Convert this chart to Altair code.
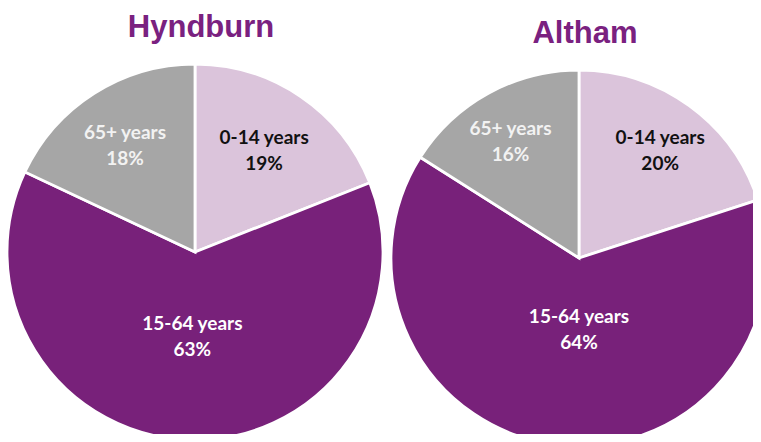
import altair as alt
import pandas as pd

regions = ["Hyndburn", "Altham"]
ages = ["0-14 years", "15-64 years", "65+ years"]
hyndburn_pct = [19, 63, 18]
altham_pct = [20, 64, 16]

rows = []
for region, vals in zip(regions, [hyndburn_pct, altham_pct]):
    for i, (a, v) in enumerate(zip(ages, vals)):
        rows.append({"region": region, "age": a, "order": i, "pct": v,
                     "label": f"{a}\n{v}%"})
df = pd.DataFrame(rows)
titles_df = pd.DataFrame({"region": regions})

slice_colors = ["#DBC4DB", "#78217A", "#A6A6A6"]
text_colors = ["#111111", "#FFFFFF", "#F2F2F2"]
label_radii = {"Hyndburn": [123, 84, 127], "Altham": [133, 72, 134]}
label_dx = {"Hyndburn": [0, 0, -2], "Altham": [3, 9, -4]}

xs = alt.Scale(type="point", domain=regions, range=[187, 571], padding=0)
ys = alt.Scale(type="point", domain=regions, range=[244, 250], padding=0)
theta_scale = alt.Scale(domain=[0, 100])

layers = []
for region in regions:
    arcs = alt.Chart(df).transform_filter(alt.datum.region == region).mark_arc(
        outerRadius=188, stroke="white", strokeWidth=2.8
    ).encode(
        x=alt.X("region:N", scale=xs, axis=None),
        y=alt.Y("region:N", scale=ys, axis=None),
        theta=alt.Theta("pct:Q", stack=True, scale=theta_scale),
        order=alt.Order("order:Q"),
        color=alt.Color("age:N", scale=alt.Scale(domain=ages, range=slice_colors), legend=None),
    )
    layers.append(arcs)
    for age, tcol, r, ddx in zip(ages, text_colors, label_radii[region], label_dx[region]):
        lab = alt.Chart(df).transform_filter(
            alt.datum.region == region
        ).transform_window(
            cum="sum(pct)", sort=[alt.SortField("order")], frame=[None, 0]
        ).transform_calculate(
            mid="datum.cum - datum.pct / 2"
        ).transform_filter(
            alt.datum.age == age
        ).mark_text(
            font="Lato", fontWeight="bold", fontSize=19, lineBreak="\n",
            lineHeight=26, baseline="middle", align="center", radius=r, color=tcol,
            dy=-12, dx=ddx,
        ).encode(
            x=alt.X("region:N", scale=xs, axis=None),
            y=alt.Y("region:N", scale=ys, axis=None),
            theta=alt.Theta("mid:Q", stack=None, scale=theta_scale),
            text="label:N",
        )
        layers.append(lab)

titles = alt.Chart(titles_df).mark_text(
    font="Liberation Sans", fontWeight="bold", fontSize=31, color="#7A2180",
    dx=6, dy=-215, baseline="alphabetic", align="center",
).encode(
    x=alt.X("region:N", scale=xs, axis=None),
    y=alt.Y("region:N", scale=ys, axis=None),
    text="region:N",
)
layers.append(titles)

chart = alt.layer(*layers).properties(
    width=745, height=426, padding=0,
    autosize=alt.AutoSizeParams(type="none"),
).configure_view(stroke=None)

chart.save("out.html", embed_options={"renderer": "svg", "actions": False})
